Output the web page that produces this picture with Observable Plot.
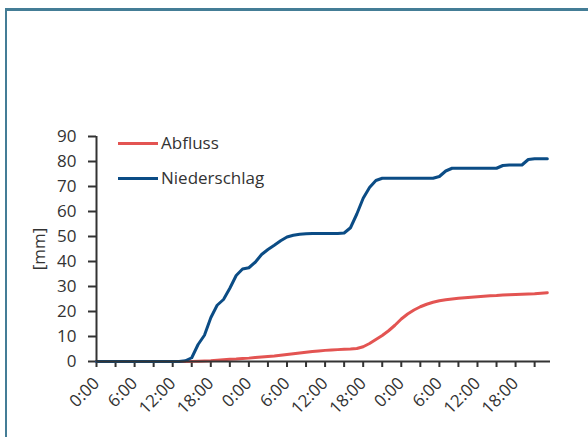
<!DOCTYPE html>
<html>
<head>
<meta charset="utf-8">
<script src="https://cdn.jsdelivr.net/npm/d3@7"></script>
<script src="https://cdn.jsdelivr.net/npm/@observablehq/plot@0.6"></script>
<style>
html, body { margin: 0; padding: 0; background: #fff; overflow: hidden; }
#wrap { position: relative; width: 588px; height: 437px; font-family: "Open Sans", sans-serif; color: #333; overflow: hidden; }
#border { position: absolute; left: 5px; top: 8px; width: 640px; height: 480px; border-top: 3px solid #447d96; border-left: 2px solid #447d96; }
#chart { position: absolute; left: 0; top: 0; }
.legend { position: absolute; left: 118px; font-size: 17px; display: flex; align-items: center; line-height: 22px; color: #333; }
.legend .sw { display: inline-block; width: 40px; height: 3px; margin-right: 3px; }
</style>
</head>
<body>
<div id="wrap">
  <div id="border"></div>
  <div id="chart"></div>
  <div id="legend"></div>
</div>
<script>
// Hours since start (hourly samples)
const hours = d3.range(0, 72);
// Cumulative runoff [mm]
const abfluss = [
  0, 0, 0, 0, 0, 0, 0, 0, 0, 0, 0, 0, 0, 0, 0,
  0.05, 0.1, 0.2, 0.3, 0.5, 0.7, 0.9, 1.0, 1.2, 1.35, 1.6, 1.8, 2.0, 2.2, 2.5,
  2.8, 3.1, 3.4, 3.7, 4.0, 4.2, 4.45, 4.6, 4.75, 4.9, 5.0, 5.2, 5.9, 7.2, 8.8,
  10.4, 12.3, 14.5, 17.0, 19.0, 20.6, 21.9, 22.9, 23.7, 24.3, 24.7, 25.0, 25.3, 25.5, 25.7,
  25.9, 26.1, 26.3, 26.4, 26.6, 26.7, 26.8, 26.9, 27.0, 27.1, 27.3, 27.5
];
// Cumulative precipitation [mm]
const niederschlag = [
  0, 0, 0, 0, 0, 0, 0, 0, 0, 0, 0, 0, 0, 0, 0.3,
  1.5, 6.8, 10.5, 17.5, 22.5, 24.8, 29.3, 34.4, 37.0, 37.5, 39.7, 42.8, 44.8, 46.5, 48.3,
  49.8, 50.5, 50.9, 51.1, 51.2, 51.2, 51.2, 51.2, 51.2, 51.4, 53.5, 59.0, 65.3, 69.6, 72.4,
  73.3, 73.3, 73.3, 73.3, 73.3, 73.3, 73.3, 73.3, 73.3, 74.0, 76.2, 77.3, 77.3, 77.3, 77.3,
  77.3, 77.3, 77.3, 77.3, 78.4, 78.6, 78.6, 78.6, 80.8, 81.1, 81.1, 81.1
];
const seriesNames = ["Abfluss", "Niederschlag"];
const seriesColors = ["#e35452", "#0b4c85"];
// x tick positions (hours) and labels
const xTickHours = d3.range(0, 72, 3);
const xTickLabels = ["0:00", "", "6:00", "", "12:00", "", "18:00", "", "0:00", "", "6:00", "", "12:00", "", "18:00", "", "0:00", "", "6:00", "", "12:00", "", "18:00", ""];
const yTicks = [0, 10, 20, 30, 40, 50, 60, 70, 80, 90];
const yLabel = "[mm]";

const rows = [];
hours.forEach((h, i) => {
  rows.push({h, v: abfluss[i], s: seriesNames[0]});
  rows.push({h, v: niederschlag[i], s: seriesNames[1]});
});

const plot = Plot.plot({
  width: 588,
  height: 437,
  marginLeft: 96,
  marginRight: 38,
  marginTop: 136,
  marginBottom: 76,
  style: { fontFamily: "Open Sans, sans-serif", fontSize: "17px", color: "#333", background: "transparent", overflow: "visible" },
  x: { domain: [0, 71.5] },
  y: { domain: [0, 90] },
  color: { domain: seriesNames, range: seriesColors },
  marks: [
    Plot.axisY({ ticks: yTicks, tickSize: 8, tickPadding: 12, strokeWidth: 2, label: yLabel, labelAnchor: "center", labelOffset: 64, labelArrow: false }),
    Plot.axisX({ ticks: xTickHours, tickFormat: (d) => xTickLabels[xTickHours.indexOf(d)], tickSize: 6, tickPadding: 13, tickRotate: -45, strokeWidth: 2, label: null }),
    Plot.line(rows, { x: "h", y: "v", stroke: "s", z: "s", strokeWidth: 3 }),
    Plot.ruleY([0], { stroke: "#333", strokeWidth: 2 }),
    Plot.ruleX([0], { stroke: "#333", strokeWidth: 2 })
  ]
});
document.getElementById("chart").appendChild(plot);

const legendTops = [132, 167];
const legend = document.getElementById("legend");
seriesNames.forEach((name, i) => {
  const div = document.createElement("div");
  div.className = "legend";
  div.style.top = legendTops[i] + "px";
  const sw = document.createElement("span");
  sw.className = "sw";
  sw.style.background = seriesColors[i];
  div.appendChild(sw);
  div.appendChild(document.createTextNode(name));
  legend.appendChild(div);
});
</script>
</body>
</html>
